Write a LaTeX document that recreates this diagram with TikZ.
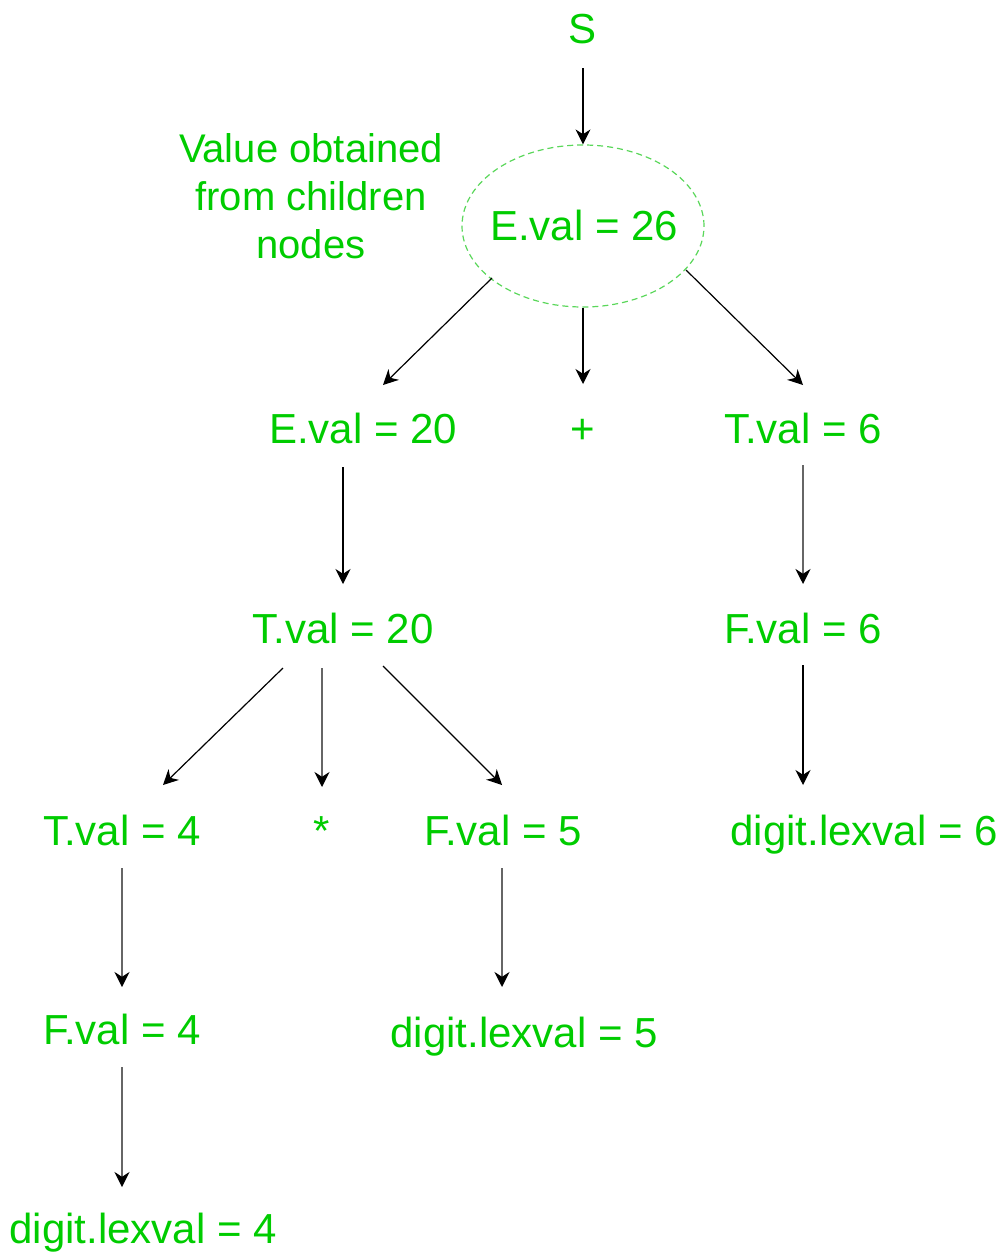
\documentclass[tikz,border=0pt]{standalone}
\usepackage{fontspec}
\setmainfont{Liberation Sans}
\usetikzlibrary{arrows.meta,calc,shapes.geometric}
\definecolor{valgreen}{RGB}{0,204,0}
\definecolor{ringgreen}{RGB}{90,215,90}
\begin{document}
\begin{tikzpicture}[x=0.5pt,y=-0.5pt,
  lbl/.style={anchor=base,inner sep=0pt,text=valgreen,font=\fontsize{21pt}{24pt}\selectfont},
  note/.style={anchor=base,inner sep=0pt,text=valgreen,align=center,font=\fontsize{20pt}{24pt}\selectfont},
  arr/.style={-{Stealth[length=7.5pt,width=7.5pt,inset=2.4pt,color=black]},line width=0.6pt,black},
  arrgray/.style={arr,line width=1pt,draw=black!60},
  ring/.style={ellipse,draw=ringgreen,dashed,dash pattern=on 3pt off 2pt,line width=0.6pt,
    minimum width=242pt*0.5,minimum height=162pt*0.5,inner sep=0pt}]
\useasboundingbox (0,0) rectangle (1004,1253);

% annotation beside the root value (base anchor sits on the last line)
\node[note] (note) at (311,258) {Value obtained\\from children\\nodes};

% tree nodes
\node[lbl] (S) at (583,43) {S};
\node[ring] (ell) at (583,226) {};
\node[lbl] (E26) at (584,240) {E.val = 26};
\node[lbl] (E20) at (363,443) {E.val = 20};
\node[lbl] (plus) at (583,443) {+};
\node[lbl] (T6) at (803,443) {T.val = 6};
\node[lbl] (T20) at (343,643) {T.val = 20};
\node[lbl] (F6) at (803,643) {F.val = 6};
\node[lbl] (T4) at (122,845) {T.val = 4};
\node[lbl] (star) at (322,845) {*};
\node[lbl] (F5) at (503,845) {F.val = 5};
\node[lbl] (d6) at (864,845) {digit.lexval = 6};
\node[lbl] (F4) at (122,1044) {F.val = 4};
\node[lbl] (d5) at (524,1047) {digit.lexval = 5};
\node[lbl] (d4) at (143,1243) {digit.lexval = 4};

% connectors
\draw[arr] ($(S.base)+(0,25)$) -- (ell.north);
\draw[arr] ($(ell.center)+(-91,52)$) -- ($(E20.base)+(20,-58)$);
\draw[arr] (ell.south) -- ($(plus.base)+(0,-59)$);
\draw[arr] ($(ell.center)+(103,44)$) -- ($(T6.base)+(0,-58)$);
\draw[arr] ($(E20.base)+(-20,24)$) -- ($(T20.base)+(0,-59)$);
\draw[arrgray] ($(T6.base)+(0,22)$) -- ($(F6.base)+(0,-59)$);
\draw[arr] ($(T20.base)+(-60,25)$) -- ($(T4.base)+(41,-60)$);
\draw[arrgray] ($(T20.base)+(-21,25)$) -- ($(star.base)+(0,-58)$);
\draw[arr] ($(T20.base)+(40,23)$) -- ($(F5.base)+(-1,-60)$);
\draw[arr] ($(F6.base)+(0,22)$) -- ($(d6.base)+(-61,-60)$);
\draw[arrgray] ($(T4.base)+(0,23)$) -- ($(F4.base)+(0,-57)$);
\draw[arrgray] ($(F5.base)+(-1,23)$) -- ($(d5.base)+(-22,-60)$);
\draw[arrgray] ($(F4.base)+(0,23)$) -- ($(d4.base)+(-21,-56)$);
\end{tikzpicture}
\end{document}
